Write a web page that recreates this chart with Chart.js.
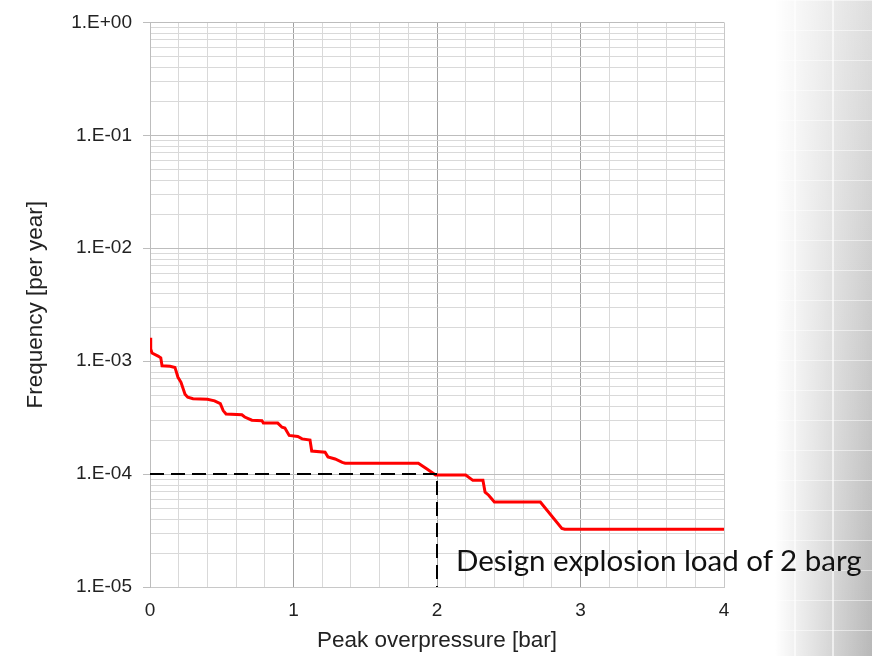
<!DOCTYPE html>
<html>
<head>
<meta charset="utf-8">
<script src="https://cdn.jsdelivr.net/npm/chart.js@4.4.0/dist/chart.umd.min.js"></script>
<style>
  html, body {
    margin: 0;
    padding: 0;
  }
  body {
    width: 872px;
    height: 656px;
    overflow: hidden;
    position: relative;
    background:
      linear-gradient(to right, transparent 0 794px, rgba(255,255,255,0.6) 794px 796px, transparent 796px 832px, rgba(255,255,255,0.6) 832px 834px, transparent 834px),
      repeating-linear-gradient(to bottom, rgba(255,255,255,0.5) 0 1px, transparent 1px 30px),
      linear-gradient(to right, #fff 0, #fff 775px, rgba(255,255,255,0) 872px),
      linear-gradient(to bottom, #dedede, #b8b8b8);
  }
  #wrap {
    position: absolute;
    left: 0;
    top: 0;
    width: 872px;
    height: 656px;
  }
  #note {
    position: absolute;
    left: 456px;
    top: 542px;
    font-family: Lato, "Open Sans", sans-serif;
    font-size: 29.5px;
    color: #111;
    white-space: nowrap;
  }
</style>
</head>
<body>
<div id="wrap"><canvas id="chart" width="872" height="656"></canvas></div>
<div id="note">Design explosion load of 2 barg</div>
<script>
// Exceedance curve
const pressure = [0, 0.005, 0.014, 0.056, 0.075, 0.084, 0.14, 0.174, 0.195, 0.216, 0.244, 0.263, 0.30, 0.40, 0.45, 0.49,
    0.51, 0.53, 0.64, 0.66, 0.71, 0.78, 0.79, 0.89, 0.92, 0.94, 0.97, 1.03, 1.06, 1.115, 1.127, 1.22, 1.24, 1.29,
    1.34, 1.36, 1.87, 1.93, 1.99, 2.2, 2.25, 2.32, 2.335, 2.36, 2.40, 2.72, 2.87, 2.89, 4.0];
const frequency = [1.61e-3, 1.28e-3, 1.18e-3, 1.11e-3, 1.07e-3, 9.1e-4, 9.0e-4, 8.8e-4, 7.2e-4, 6.5e-4, 5.1e-4, 4.8e-4, 4.65e-4, 4.6e-4, 4.45e-4, 4.2e-4,
    3.65e-4, 3.4e-4, 3.35e-4, 3.2e-4, 3.0e-4, 2.97e-4, 2.83e-4, 2.83e-4, 2.6e-4, 2.56e-4, 2.2e-4, 2.15e-4, 2.05e-4, 2.0e-4, 1.6e-4, 1.56e-4, 1.42e-4, 1.36e-4,
    1.27e-4, 1.25e-4, 1.25e-4, 1.11e-4, 9.8e-5, 9.8e-5, 8.8e-5, 8.8e-5, 6.9e-5, 6.5e-5, 5.65e-5, 5.65e-5, 3.3e-5, 3.25e-5, 3.25e-5];

// design load marker
const designLoad = 2;
const designFreq = 1e-4;

// axis ticks
const xTicks = [0, 0.2, 0.4, 0.6, 0.8, 1, 1.2, 1.4, 1.6, 1.8, 2, 2.2, 2.4, 2.6, 2.8, 3, 3.2, 3.4, 3.6, 3.8, 4];
const decades = [1e-5, 1e-4, 1e-3, 1e-2, 1e-1, 1];
const minorSteps = [2, 3, 4, 5, 6, 7, 8, 9];

let yTicks = [];
decades.forEach((d, i) => {
    yTicks.push(d);
    if (i < decades.length - 1) {
        minorSteps.forEach(m => yTicks.push(m * d));
    }
});

function isDecade(v) {
    const e = Math.log10(v);
    return Math.abs(e - Math.round(e)) < 1e-6;
}
function isInt(v) {
    return Math.abs(v - Math.round(v)) < 1e-6;
}
function sciLabel(v) {
    const e = Math.round(Math.log10(v));
    const sign = e < 0 ? '-' : '+';
    return '1.E' + sign + String(Math.abs(e)).padStart(2, '0');
}

const curve = pressure.map((p, i) => ({ x: p, y: frequency[i] }));
const marker = [
    { x: 0, y: designFreq },
    { x: designLoad, y: designFreq },
    { x: designLoad, y: decades[0] }
];

const tickFont = { family: '"Liberation Sans", Arial, sans-serif', size: 19 };
const titleFont = { family: '"Liberation Sans", Arial, sans-serif', size: 22.5 };

new Chart(document.getElementById('chart').getContext('2d'), {
    type: 'line',
    data: {
        datasets: [{
            data: marker,
            borderColor: '#000',
            borderWidth: 2,
            borderDash: [14, 7],
            pointRadius: 0,
            order: 0
        }, {
            data: curve,
            borderColor: '#ff0000',
            borderWidth: 3,
            pointRadius: 0,
            tension: 0,
            order: 1
        }]
    },
    options: {
        responsive: false,
        animation: false,
        layout: { padding: { left: 0, right: 148, top: 20, bottom: 0 } },
        plugins: {
            legend: { display: false },
            tooltip: { enabled: false }
        },
        scales: {
            x: {
                type: 'linear',
                min: 0,
                max: 4,
                afterBuildTicks: s => { s.ticks = xTicks.map(v => ({ value: v })); },
                afterFit: s => { s.height = 69; },
                ticks: {
                    autoSkip: false,
                    maxRotation: 0,
                    padding: 12,
                    color: '#222',
                    font: tickFont,
                    callback: v => isInt(v) ? String(Math.round(v)) : ''
                },
                grid: {
                    drawTicks: false,
                    color: c => {
                        const v = c.tick ? c.tick.value : 0;
                        if (v >= 4) return '#c8c8c8';
                        return isInt(v) && v > 0 ? '#a0a0a0' : '#d9d9d9';
                    },
                    lineWidth: 1
                },
                border: { color: '#c8c8c8' },
                title: {
                    display: true,
                    text: 'Peak overpressure [bar]',
                    color: '#222',
                    font: titleFont,
                    padding: { top: 0, bottom: 2 }
                }
            },
            y: {
                type: 'logarithmic',
                min: 1e-5,
                max: 1,
                afterBuildTicks: s => { s.ticks = yTicks.map(v => ({ value: v })); },
                afterFit: s => { s.width = 150; },
                ticks: {
                    autoSkip: false,
                    padding: 11,
                    color: '#222',
                    font: tickFont,
                    callback: v => isDecade(v) ? sciLabel(v) : ''
                },
                grid: {
                    drawTicks: true,
                    tickLength: 7,
                    color: c => (c.tick && isDecade(c.tick.value)) ? '#bdbdbd' : '#d9d9d9',
                    tickColor: c => (c.tick && isDecade(c.tick.value)) ? '#bdbdbd' : 'rgba(0,0,0,0)',
                    lineWidth: 1
                },
                border: { color: '#bdbdbd' },
                title: {
                    display: true,
                    text: 'Frequency [per year]',
                    color: '#222',
                    font: titleFont,
                    padding: { top: 22, bottom: 0 }
                }
            }
        }
    }
});
</script>
</body>
</html>
